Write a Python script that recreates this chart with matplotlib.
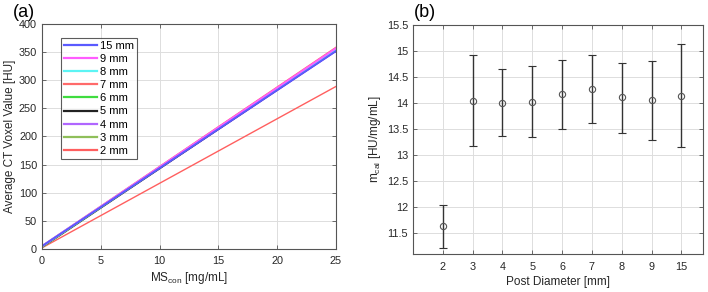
import numpy as np
import matplotlib
matplotlib.use("Agg")
import matplotlib.pyplot as plt

plt.rcParams['font.family'] = ['Liberation Sans', 'DejaVu Sans']
plt.rcParams['mathtext.default'] = 'regular'

# (a) calibration lines: CT value at MS=0 and at MS=25 mg/mL
diam_labels = ['15 mm', '9 mm', '8 mm', '7 mm', '6 mm', '5 mm', '4 mm', '3 mm', '2 mm']
line_colors = ['#5a5aff', '#ff5cff', '#5cf4f4', '#ff6a6a', '#3fdc3f', '#222222',
               '#b066ff', '#8fbf5a', '#ff5f5f']
ct_at_0 = [5, 5, 5, 5, 4, 4, 4, 3, 2]
ct_at_25 = [352, 357, 355, 358, 355, 353, 352, 354, 289]
ms_ends = [0, 25]

# (b) calibration slope per post diameter
post_diam = ['2', '3', '4', '5', '6', '7', '8', '9', '15']
m_cal = [11.63, 14.04, 14.01, 14.03, 14.18, 14.27, 14.11, 14.05, 14.13]
m_upper = [12.04, 14.92, 14.66, 14.71, 14.83, 14.92, 14.77, 14.81, 15.13]
m_lower = [11.22, 13.18, 13.37, 13.35, 13.51, 13.61, 13.43, 13.29, 13.15]

fig = plt.figure(figsize=(7.08, 2.92), dpi=100)
ax1 = fig.add_axes([0.0593, 0.1473, 0.4153, 0.7705])
ax2 = fig.add_axes([0.5833, 0.1301, 0.4096, 0.7842])

spine_col = '#555555'
txt_col = '#262626'

for ax in (ax1, ax2):
    for s in ax.spines.values():
        s.set_color(spine_col)
        s.set_linewidth(0.8)
    ax.grid(True, color='#dddddd', linewidth=0.7)
    ax.set_axisbelow(True)
    ax.tick_params(direction='in', length=3, width=0.6, color=spine_col,
                   labelsize=7.8, labelcolor=txt_col, top=True, right=True,
                   labeltop=False, labelright=False)

# panel (a)
handles = []
for i in reversed(range(len(diam_labels))):
    lw = 1.0 if diam_labels[i] == '2 mm' else 1.4
    h, = ax1.plot(ms_ends, [ct_at_0[i], ct_at_25[i]], color=line_colors[i],
                  linewidth=lw, label=diam_labels[i])
    handles.append(h)
handles = handles[::-1]
ax1.set_xlim(0, 25)
ax1.set_ylim(0, 400)
ax1.set_xticks([0, 5, 10, 15, 20, 25])
ax1.set_yticks(np.arange(0, 401, 50))
ax1.tick_params(axis='x', pad=5)
ax1.set_xlabel('MS$_{con}$ [mg/mL]', fontsize=8.5, color=txt_col, labelpad=3)
ax1.set_ylabel('Average CT Voxel Value [HU]', fontsize=8.5, color=txt_col, labelpad=2)
leg = ax1.legend(handles=handles, loc='upper left', bbox_to_anchor=(0.065, 0.94),
                 fontsize=8, frameon=True, fancybox=False, edgecolor='#333333',
                 handlelength=2.9, handletextpad=0.3, labelspacing=0.28,
                 borderpad=0.3, borderaxespad=0)
leg.get_frame().set_linewidth(0.8)
for lh in leg.get_lines():
    lh.set_linewidth(1.6)
fig.text(0.018, 0.985, '(a)', fontsize=13, va='top', ha='left')

# panel (b)
xpos = np.arange(1, len(post_diam) + 1)
yerr = [np.array(m_cal) - np.array(m_lower), np.array(m_upper) - np.array(m_cal)]
ax2.errorbar(xpos, m_cal, yerr=yerr, fmt='o', color='#333333', ecolor='#333333',
             elinewidth=1.0, capsize=3, capthick=1.0, markersize=4.5,
             markerfacecolor='none', markeredgecolor='#555555', markeredgewidth=0.8)
ax2.set_xlim(0, 9.72)
ax2.set_ylim(11.1, 15.5)
ax2.set_xticks(xpos)
ax2.set_xticklabels(post_diam)
yt = np.arange(11.5, 15.51, 0.5)
ax2.set_yticks(yt)
ax2.set_yticklabels(['%g' % v for v in yt])
ax2.tick_params(axis='x', pad=5.5)
ax2.set_xlabel('Post Diameter [mm]', fontsize=8.5, color=txt_col, labelpad=3)
ax2.set_ylabel('m$_{cal}$ [HU/mg/mL]', fontsize=8.5, color=txt_col, labelpad=3)
fig.text(0.584, 0.985, '(b)', fontsize=13, va='top', ha='left')

fig.savefig('out.png', dpi=100)
